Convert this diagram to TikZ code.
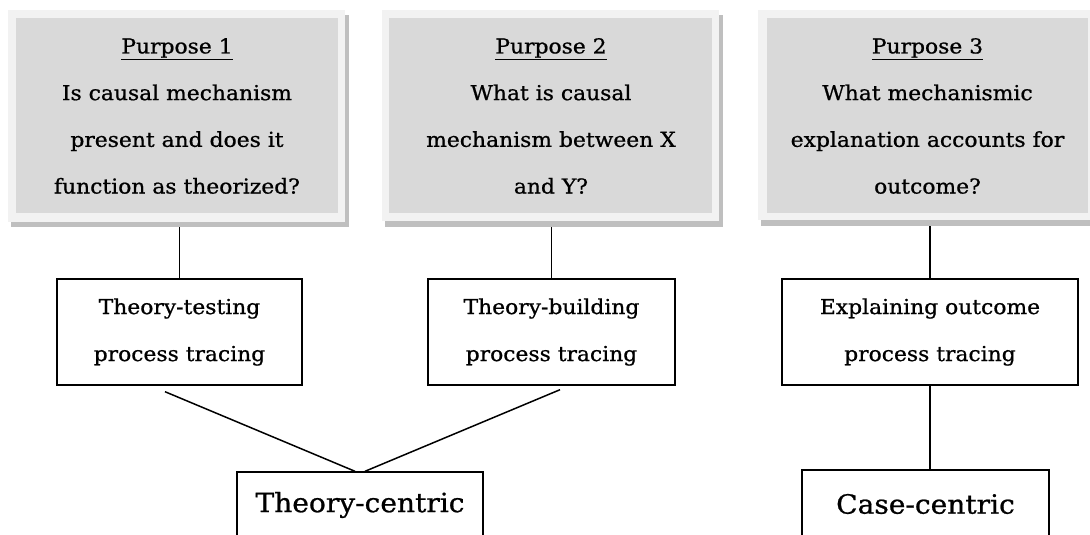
\documentclass[tikz,border=0pt]{standalone}
\usepackage{fontspec}
\setmainfont[FakeStretch=1.06,FakeBold=0.8]{DejaVu Serif}
\usetikzlibrary{fit}
\definecolor{framec}{HTML}{F2F2F2}
\definecolor{innerc}{HTML}{D9D9D9}
\definecolor{shadowc}{HTML}{BFBFBF}
\begin{document}
\begin{tikzpicture}[x=1pt,y=-1pt,
  rectfill/.style={inner sep=0pt, draw=none, fill=#1},
  ptext/.style={align=center, inner sep=0pt, font=\fontsize{20.6}{46.7}\selectfont},
  pbox/.style={draw, line width=1.4pt, inner sep=0pt, align=center, font=\fontsize{20.6}{47}\selectfont},
  bigbox/.style={draw, line width=1.4pt, inner sep=0pt, align=center, font=\fontsize{26.5}{30}\selectfont},
  conn/.style={line width=1.5pt}]
\useasboundingbox (0,0) rectangle (1090,535);
\fill[white] (0,0) rectangle (1090,535);
% Purpose boxes
\node[fit={(11,15) (349,227)}, rectfill=shadowc] (s1) {};
\node[fit={(8,10) (345,222)}, rectfill=framec] (f1) {};
\node[fit={(16,18) (338,213)}, rectfill=innerc] (i1) {};
\node[ptext] (q1) at (177,116) {\underline{Purpose 1}\\Is causal mechanism\\present and does it\\function as theorized?};
\node[fit={(385,15) (723,227)}, rectfill=shadowc] (s2) {};
\node[fit={(382,10) (719,221)}, rectfill=framec] (f2) {};
\node[fit={(389,18) (712,213)}, rectfill=innerc] (i2) {};
\node[ptext] (q2) at (551,116) {\underline{Purpose 2}\\What is causal\\mechanism between X\\and Y?};
\node[fit={(761,15) (1100,226)}, rectfill=shadowc] (s3) {};
\node[fit={(758,10) (1095,220)}, rectfill=framec] (f3) {};
\node[fit={(767,18) (1088,213)}, rectfill=innerc] (i3) {};
\node[ptext] (q3) at (927.5,116) {\underline{Purpose 3}\\What mechanismic\\explanation accounts for\\outcome?};
% Process tracing boxes
\node[pbox, minimum width=245, minimum height=106] (tt) at (179.5,332) {Theory-testing\\process tracing};
\node[pbox, minimum width=247, minimum height=106] (tb) at (551.5,332) {Theory-building\\process tracing};
\node[pbox, minimum width=296, minimum height=106] (eo) at (930,332) {Explaining outcome\\process tracing};
% Bottom boxes
\node[bigbox, minimum width=246, minimum height=66] (tc) at (360,505) {Theory-centric};
\node[bigbox, minimum width=247, minimum height=68] (cc) at (925.5,504) {Case-centric};
% connectors
\draw[conn] (tt.north) -- (tt.north |- s1.south);
\draw[conn] (tb.north) -- (tb.north |- s2.south);
\draw[conn] (eo.north) -- (eo.north |- s3.south);
\draw[conn] (eo.south) -- (eo.south |- cc.north);
\coordinate (a1) at ([xshift=-14.5pt, yshift=-6pt]tt.south);
\coordinate (a2) at ([xshift=-5pt]tc.north);
\coordinate (b1) at ([xshift=8.5pt, yshift=-4pt]tb.south);
\coordinate (b2) at ([xshift=5pt]tc.north);
\draw[conn] (a1) -- (a2);
\draw[conn] (b1) -- (b2);
\end{tikzpicture}
\end{document}
